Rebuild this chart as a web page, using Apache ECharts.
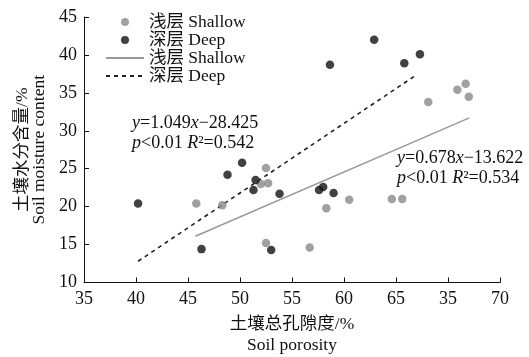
<!DOCTYPE html>
<html><head><meta charset="utf-8">
<script src="https://cdn.jsdelivr.net/npm/echarts@6/dist/echarts.min.js"></script>
<style>html,body{margin:0;padding:0;background:#fff}#c{width:529px;height:357px}</style>
</head><body><div id="c"></div>
<script>
const xTickLabels = ['35','40','45','50','55','60','65','35','70'];
const shallowX = [45.8,48.3,52.5,52.0,52.7,60.5,58.3,64.6,65.6,56.7,52.5,68.1,70.9,71.7,72.0];
const shallowY = [20.4,20.2,25.1,23.0,23.1,20.9,19.8,21.0,21.0,14.6,15.2,33.8,35.4,36.2,34.5];
const deepX = [40.2,46.3,48.8,50.2,51.5,51.3,53.8,57.6,58.0,59.0,53.0,62.9,58.65,65.8,67.3];
const deepY = [20.4,14.4,24.2,25.8,23.5,22.2,21.7,22.2,22.6,21.8,14.3,42.0,38.7,38.9,40.1];
const shallowLineX = [45.7,72.05];
const shallowLineY = [16.1,31.7];
const deepLineX = [40.2,67.0];
const deepLineY = [12.8,37.4];

const FONT = '"Liberation Serif","Times New Roman","Noto Sans CJK SC",serif';
const zip = (a,b)=>a.map((v,i)=>[v,b[i]]);

const chart = echarts.init(document.getElementById('c'));
chart.setOption({
  animation:false,
  backgroundColor:'#fff',
  textStyle:{fontFamily:FONT},
  grid:{left:84,right:29,top:17,bottom:74.5,containLabel:false,outerBoundsMode:'none'},
  legend:{
    orient:'vertical', left:100, top:8, itemGap:0, itemWidth:38, itemHeight:8,
    symbolKeepAspect:true,
    textStyle:{fontFamily:FONT,fontSize:17.5,color:'#111',lineHeight:18},
    data:[
      {name:'浅层 Shallow',icon:'circle'},
      {name:'深层 Deep',icon:'circle'},
      {name:'浅层 Shallow ',itemStyle:{opacity:0}},
      {name:'深层 Deep ',itemStyle:{opacity:0}}
    ]
  },
  xAxis:{
    type:'value', min:35, max:75, interval:5,
    axisLine:{lineStyle:{color:'#111',width:1}},
    axisTick:{inside:true,length:5,lineStyle:{color:'#111'}},
    splitLine:{show:false},
    axisLabel:{fontFamily:FONT,fontSize:18,color:'#111',margin:8,
      formatter:(v)=>xTickLabels[Math.round((v-35)/5)]},
    name:'土壤总孔隙度/%\nSoil porosity', nameLocation:'middle', nameGap:31,
    nameTextStyle:{fontFamily:FONT,fontSize:17.5,color:'#111',lineHeight:21}
  },
  yAxis:{
    type:'value', min:10, max:45, interval:5,
    axisLine:{show:true,lineStyle:{color:'#111',width:1}},
    axisTick:{show:true,inside:true,length:5,lineStyle:{color:'#111'}},
    splitLine:{show:false},
    axisLabel:{fontFamily:FONT,fontSize:18,color:'#111',margin:7},
    name:'土壤水分含量/%\nSoil moisture content', nameLocation:'middle', nameGap:32, nameRotate:90,
    nameTextStyle:{fontFamily:FONT,fontSize:17.5,color:'#111',lineHeight:17}
  },
  series:[
    {name:'浅层 Shallow',type:'scatter',symbolSize:8.5,itemStyle:{color:'#8a8a8a'},data:zip(shallowX,shallowY),z:3},
    {name:'深层 Deep',type:'scatter',symbolSize:8.5,itemStyle:{color:'#111'},data:zip(deepX,deepY),z:4},
    {name:'浅层 Shallow ',type:'line',symbol:'none',lineStyle:{color:'#999',width:1.5},itemStyle:{color:'#999'},data:zip(shallowLineX,shallowLineY),z:2},
    {name:'深层 Deep ',type:'line',symbol:'none',lineStyle:{color:'#222',width:1.6,type:[4,4]},itemStyle:{color:'#222'},data:zip(deepLineX,deepLineY),z:2}
  ],
  graphic:[
    {type:'text',left:132,top:113,style:{text:'{i|y}=1.049{i|x}−28.425\n{i|p}<0.01 {i|R}²=0.542',font:'18px '+FONT,fill:'#111',lineHeight:20,
      rich:{i:{fontStyle:'italic',fontFamily:FONT,fontSize:18}}}},
    {type:'text',left:397,top:148,style:{text:'{i|y}=0.678{i|x}−13.622\n{i|p}<0.01 {i|R}²=0.534',font:'18px '+FONT,fill:'#111',lineHeight:20,
      rich:{i:{fontStyle:'italic',fontFamily:FONT,fontSize:18}}}}
  ]
});
</script></body></html>
